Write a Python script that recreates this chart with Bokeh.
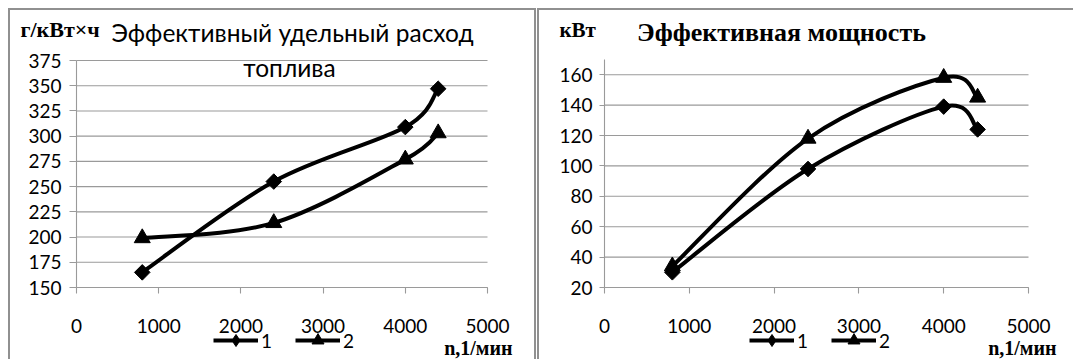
import numpy as np
from bokeh.plotting import figure
from bokeh.models import Label, Legend, LegendItem, Range1d, FixedTicker
from bokeh.layouts import row
from bokeh.embed import file_html
from bokeh.resources import INLINE

# ---- data ----
rpm = [800, 2400, 4000, 4400]
fuel_1 = [165, 255, 309, 347]
fuel_2 = [199, 214, 277, 303]
power_1 = [30, 98, 139, 124]
power_2 = [34, 118, 158, 145]

x_ticks = [0, 1000, 2000, 3000, 4000, 5000]
fuel_ticks = [150, 175, 200, 225, 250, 275, 300, 325, 350, 375]
power_ticks = [20, 40, 60, 80, 100, 120, 140, 160]

left_title_1 = "Эффективный удельный расход"
left_title_2 = "топлива"
left_unit = "г/кВт×ч"
right_title = "Эффективная мощность"
right_unit = "кВт"
x_unit = "n,1/мин"
series_names = ["1", "2"]

GRID = "#9a9a9a"
TICK_FONT = "Lato"
SERIF = "Liberation Serif"
H = 351
LW = 4


def smooth(xs, ys):
    x = np.asarray(xs, float)
    y = np.asarray(ys, float)
    xp = np.concatenate([[x[0]], x, [x[-1]]])
    yp = np.concatenate([[y[0]], y, [y[-1]]])
    d = dict(x0=[], y0=[], x1=[], y1=[], cx0=[], cy0=[], cx1=[], cy1=[])
    for i in range(len(x) - 1):
        d["x0"].append(x[i]); d["y0"].append(y[i])
        d["x1"].append(x[i + 1]); d["y1"].append(y[i + 1])
        d["cx0"].append(x[i] + (xp[i + 2] - xp[i]) / 6)
        d["cy0"].append(y[i] + (yp[i + 2] - yp[i]) / 6)
        d["cx1"].append(x[i + 1] - (xp[i + 3] - xp[i + 1]) / 6)
        d["cy1"].append(y[i + 1] - (yp[i + 3] - yp[i + 1]) / 6)
    return d


def make_panel(W, frame_box, xlim, ylim, yticks, s1, s2, ytick_out, ystandoff,
               legend_x, styles):
    L, R, T, B = frame_box  # pixel box of the data area inside the canvas
    x0, x1 = xlim
    y0, y1 = ylim
    kx = (x1 - x0) / (R - L)
    ky = (y1 - y0) / (B - T)
    xr = Range1d(x0 - L * kx, x1 + (W - R) * kx)
    yr = Range1d(y0 - (H - B) * ky, y1 + T * ky)
    p = figure(width=W, height=H, output_backend="svg", toolbar_location=None,
               x_range=xr, y_range=yr,
               min_border_left=0, min_border_right=0,
               min_border_top=0, min_border_bottom=0)
    p.outline_line_color = None
    p.xgrid.visible = False
    p.ygrid.visible = False
    p.background_fill_color = "white"

    # horizontal grid lines across the data area only
    p.segment(x0=[x0] * len(yticks), y0=yticks, x1=[x1] * len(yticks), y1=yticks,
              line_color=GRID, line_width=1.1)

    p.xaxis.ticker = FixedTicker(ticks=x_ticks)
    p.yaxis.ticker = FixedTicker(ticks=yticks)
    p.xaxis.fixed_location = y0
    p.yaxis.fixed_location = x0
    p.xaxis.bounds = (x0, x1)
    p.yaxis.bounds = (y0, y1)
    for ax in (p.xaxis, p.yaxis):
        ax.axis_line_color = GRID
        ax.axis_line_width = 1.1
        ax.major_tick_line_color = GRID
        ax.major_tick_line_width = 1.1
        ax.major_tick_in = 0
        ax.minor_tick_line_color = None
        ax.major_label_text_font = TICK_FONT
        ax.major_label_text_font_size = "19px"
        ax.major_label_text_color = "black"
    p.xaxis.major_tick_out = 6
    p.xaxis.major_label_standoff = 25
    p.yaxis.major_tick_out = ytick_out
    p.yaxis.major_label_standoff = ystandoff

    for ys, mk, size in ((s1, "square", 11), (s2, "triangle", 16)):
        p.bezier(source=smooth(rpm, ys), x0="x0", y0="y0", x1="x1", y1="y1",
                 cx0="cx0", cy0="cy0", cx1="cx1", cy1="cy1",
                 line_color="black", line_width=LW)
        p.scatter(rpm, ys, marker=mk, size=size, color="black",
                  angle=(np.pi / 4 if mk == "square" else 0))

    items = []
    for name, mk in ((series_names[0], "diamond"), (series_names[1], "triangle")):
        lr = p.line([np.nan], [np.nan], line_color="black", line_width=LW)
        mr = p.scatter([np.nan], [np.nan], marker=mk, size=12, color="black")
        items.append(LegendItem(label=name, renderers=[lr, mr]))
    leg = Legend(items=items, location=(legend_x, 6), orientation="horizontal",
                 glyph_width=45, glyph_height=30, label_standoff=3, spacing=14,
                 padding=0, margin=0, border_line_color=None, background_fill_alpha=0,
                 label_text_font=TICK_FONT, label_text_font_size="19px",
                 label_text_color="black")
    p.add_layout(leg)
    p.styles = styles
    return p


left = make_panel(528, (66, 477, 50, 277), (0, 5000), (150, 375), fuel_ticks,
                  fuel_1, fuel_2, 7, 8, 203,
                  {"border": "2px solid #909090", "border-bottom": "none",
                   "margin-left": "8px", "margin-top": "8px"})
right = make_panel(536, (65, 489, 49, 277), (0, 5000), (20, 170), power_ticks,
                   power_1, power_2, 5, 7, 210,
                   {"border": "2px solid #909090", "border-right": "none",
                    "border-bottom": "none", "margin-left": "1px", "margin-top": "8px"})


def lab(p, x, y, text, font, size, bold=False, align="left"):
    p.add_layout(Label(x=x, y=y, x_units="screen", y_units="screen", text=text,
                       text_font=font, text_font_size=size,
                       text_font_style=("bold" if bold else "normal"),
                       text_align=align, text_baseline="alphabetic", text_color="black"))


lab(left, 10, 332, left_unit, SERIF, "22px", bold=True)
lab(left, 282, 329, left_title_1, TICK_FONT, "24.5px", align="center")
lab(left, 279, 294, left_title_2, TICK_FONT, "24.5px", align="center")
lab(left, 502, 14, x_unit, SERIF, "20px", bold=True, align="right")

lab(right, 20, 332, right_unit, SERIF, "21px", bold=True)
lab(right, 242, 329, right_title, SERIF, "26px", bold=True, align="center")
lab(right, 517, 14, x_unit, SERIF, "20px", bold=True, align="right")

layout = row(left, right)
open("out.html", "w").write(file_html(layout, INLINE, title="chart"))
